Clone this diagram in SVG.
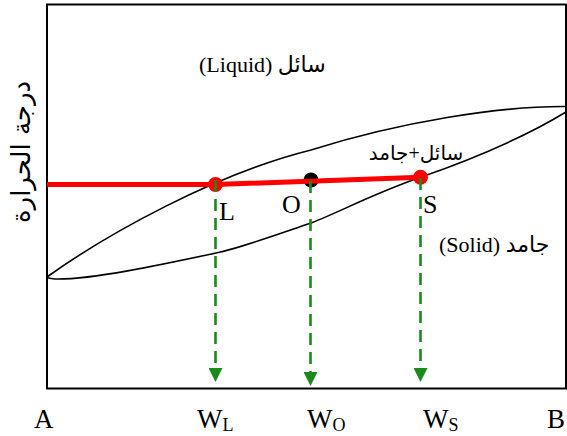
<svg xmlns="http://www.w3.org/2000/svg" width="567" height="436" viewBox="0 0 567 436">
<style>
.lbl{font-family:"Liberation Serif","DejaVu Sans",serif;fill:#000}
.ar{font-family:"DejaVu Sans","Liberation Serif",sans-serif;fill:#000}
.dash{stroke:#1b8a1b;stroke-width:2.6;stroke-dasharray:12 7;fill:none}
</style>
<defs>
<marker id="ah" viewBox="0 0 14 14" refX="0" refY="7" markerWidth="14" markerHeight="14" markerUnits="userSpaceOnUse" orient="auto">
<path d="M0,0 L14,7 L0,14 Z" fill="#1b8a1b"/>
</marker>
</defs>
<rect x="0" y="0" width="567" height="436" fill="#fff"/>
<g id="frame">
<rect x="47" y="4.5" width="519" height="384" fill="none" stroke="#000" stroke-width="2"/>
</g>
<g id="lens">
<path d="M47,277 C107,234 215,174 311,150 C400,122 500,106 566,106.5 L566,112 C520,140 470,160 420.5,177.3 C370,195 340,212 311,223 C270,237 240,248 216,253 C160,265 90,280 55,279 C49,278.5 46,277.5 47,277 Z" fill="none" stroke="#000" stroke-width="1.6"/>
</g>
<g id="node-O">
<circle cx="311" cy="180" r="7.5" fill="#000"/>
</g>
<g id="connectors">
<polyline points="47,184.5 215.5,184.5 420.5,177.3" fill="none" stroke="#ff0000" stroke-width="5"/>
</g>
<g id="node-L">
<circle cx="215.5" cy="184.5" r="7.5" fill="#ff0000"/>
</g>
<g id="node-S">
<circle cx="420.5" cy="177.3" r="7.5" fill="#ff0000"/>
</g>
<g id="arrows">
<line class="dash" x1="215.5" y1="180" x2="215.5" y2="368" marker-end="url(#ah)"/>
<line class="dash" x1="310.5" y1="181" x2="310.5" y2="372" marker-end="url(#ah)"/>
<line class="dash" x1="420.5" y1="178" x2="420.5" y2="368" marker-end="url(#ah)"/>
</g>
<g id="labels">
<text class="lbl" x="199" y="71.5" font-size="22">(Liquid) سائل</text>
<text class="lbl" x="416" y="160" font-size="20" text-anchor="middle">سائل+جامد</text>
<text class="lbl" x="439" y="252" font-size="22">(Solid) جامد</text>
<text class="lbl" x="219" y="220" font-size="26">L</text>
<text class="lbl" x="282" y="213" font-size="26">O</text>
<text class="lbl" x="423" y="213" font-size="26">S</text>
<text class="ar" transform="translate(30,152) rotate(-90)" font-size="26" text-anchor="middle">درجة الحرارة</text>
<text class="lbl" x="34" y="428" font-size="27">A</text>
<text class="lbl" x="197" y="428" font-size="27">W<tspan dy="3" font-size="18">L</tspan></text>
<text class="lbl" x="307" y="428" font-size="27">W<tspan dy="3" font-size="18">O</tspan></text>
<text class="lbl" x="423" y="428" font-size="27">W<tspan dy="3" font-size="18">S</tspan></text>
<text class="lbl" x="547" y="428" font-size="27">B</text>
</g>
</svg>
